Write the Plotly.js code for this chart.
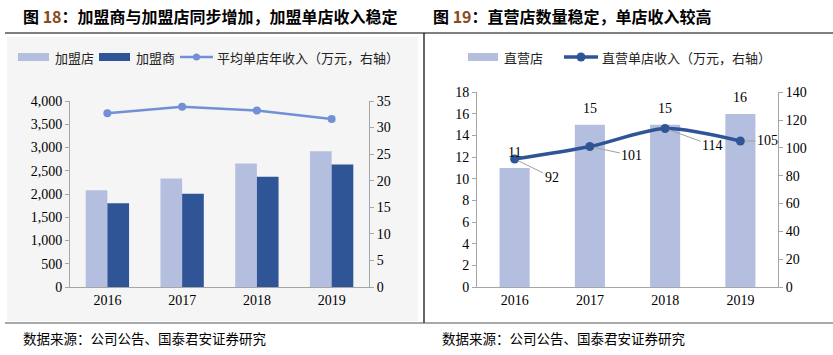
<!DOCTYPE html>
<html>
<head>
<meta charset="utf-8">
<script src="https://cdn.plot.ly/plotly-3.0.1.min.js"></script>
<style>
html,body{margin:0;padding:0;background:#fff;}
#chart{width:833px;height:355px;}
</style>
</head>
<body>
<div id="chart"></div>
<script>
// ---- data ----
const years = ['2016', '2017', '2018', '2019'];
const franchiseStores = [2080, 2335, 2655, 2920];      // 加盟店
const franchisees = [1800, 2005, 2370, 2635];          // 加盟商
const avgFranchiseRevenue = [32.7, 33.9, 33.2, 31.6];  // 平均单店年收入（万元）
const directStores = [11, 15, 15, 16];                 // 直营店
const directRevenue = [92, 101, 114, 105];             // 直营单店收入（万元）

const leftTitle = '图 <span style="color:#8a4a1c">18</span>：加盟商与加盟店同步增加，加盟单店收入稳定';
const rightTitle = '图 <span style="color:#8a4a1c">19</span>：直营店数量稳定，单店收入较高';
const sourceText = '数据来源：公司公告、国泰君安证券研究';

// ---- style ----
const W = 833, H = 355;
const px = v => v / W;
const py = v => 1 - v / H;
const LIGHT = '#b4bfdf';
const DARK = '#2f5597';
const MID = '#7190d6';
const AXIS = '#a6a6a6';
const SERIF = '"Liberation Serif", "Times New Roman", serif';
const CJK = '"Noto Sans CJK SC", sans-serif';
const labelOffsets = [[37, 18], [42, 9], [47, 17], [27, 0]];

const traces = [
  {type: 'bar', x: years, y: franchiseStores, name: '加盟店', xaxis: 'x', yaxis: 'y',
   marker: {color: LIGHT}},
  {type: 'bar', x: years, y: franchisees, name: '加盟商', xaxis: 'x', yaxis: 'y',
   marker: {color: DARK}},
  {type: 'scatter', mode: 'lines+markers', x: years, y: avgFranchiseRevenue,
   name: '平均单店年收入（万元，右轴）', xaxis: 'x', yaxis: 'y2',
   line: {color: MID, width: 2.5}, marker: {color: MID, size: 8}},
  {type: 'bar', x: years, y: directStores, name: '直营店', xaxis: 'x2', yaxis: 'y3',
   width: 0.4, marker: {color: LIGHT}},
  {type: 'scatter', mode: 'lines+markers', x: years, y: directRevenue,
   name: '直营单店收入（万元，右轴）', xaxis: 'x2', yaxis: 'y4',
   line: {color: DARK, width: 3.5, shape: 'spline', smoothing: 0.8}, marker: {color: DARK, size: 9}}
];

const tickFont = {family: SERIF, size: 14, color: '#000'};
const yAxisBase = {showline: true, linecolor: AXIS, linewidth: 1, ticks: 'outside', ticklen: 4,
  tickcolor: AXIS, showgrid: false, zeroline: false, tickfont: tickFont, fixedrange: true, autorange: false};
const xAxisBase = {showline: true, linecolor: AXIS, linewidth: 1, ticks: '', showgrid: false,
  zeroline: false, tickfont: tickFont, type: 'category', categoryorder: 'array', categoryarray: years,
  range: [-0.5, years.length - 0.5], autorange: false, fixedrange: true};

const annotations = [];
// titles
annotations.push({xref: 'paper', yref: 'paper', x: px(21), y: py(16), xanchor: 'left', yanchor: 'middle',
  text: leftTitle, showarrow: false, font: {family: CJK, size: 16, color: '#000', weight: 'bold'}});
annotations.push({xref: 'paper', yref: 'paper', x: px(431), y: py(16), xanchor: 'left', yanchor: 'middle',
  text: rightTitle, showarrow: false, font: {family: CJK, size: 16, color: '#000', weight: 'bold'}});
// sources
annotations.push({xref: 'paper', yref: 'paper', x: px(21), y: py(338), xanchor: 'left', yanchor: 'middle',
  text: sourceText, showarrow: false, font: {family: CJK, size: 13.5, color: '#000'}});
annotations.push({xref: 'paper', yref: 'paper', x: px(440), y: py(338), xanchor: 'left', yanchor: 'middle',
  text: sourceText, showarrow: false, font: {family: CJK, size: 13.5, color: '#000'}});
// legends (manual)
const legFont = {family: CJK, size: 13, color: '#222'};
const legY = 57;
function legText(x, t) {
  annotations.push({xref: 'paper', yref: 'paper', x: px(x), y: py(legY), xanchor: 'left', yanchor: 'middle',
    text: t, showarrow: false, font: legFont});
}
legText(53, traces[0].name);
legText(134, traces[1].name);
legText(215, traces[2].name);
legText(502, traces[3].name);
legText(600, traces[4].name);
// bar value labels (right panel)
directStores.forEach((v, i) => {
  annotations.push({xref: 'x2', yref: 'y3', x: i, y: v, yshift: 16, showarrow: false,
    text: String(v), font: tickFont});
});
// line value labels with leader lines
directRevenue.forEach((v, i) => {
  annotations.push({xref: 'x2', yref: 'y4', x: i, y: v, axref: 'pixel', ayref: 'pixel',
    ax: labelOffsets[i][0], ay: labelOffsets[i][1],
    showarrow: true, arrowhead: 0, arrowwidth: 1, arrowcolor: '#a0a0a0', standoff: 4,
    text: String(v), font: tickFont});
});

const shapes = [
  // left panel grey background
  {type: 'rect', xref: 'paper', yref: 'paper', x0: px(7), x1: px(418), y0: py(37), y1: py(321),
   fillcolor: '#f5f5f5', line: {width: 0}, layer: 'below'},
  // header line
  {type: 'line', xref: 'paper', yref: 'paper', x0: px(5), x1: px(833), y0: py(33), y1: py(33),
   line: {color: '#808080', width: 2}},
  // vertical separator
  {type: 'line', xref: 'paper', yref: 'paper', x0: px(424), x1: px(424), y0: py(33), y1: py(323),
   line: {color: '#000', width: 1.2}},
  // bottom line
  {type: 'line', xref: 'paper', yref: 'paper', x0: px(5), x1: px(833), y0: py(323), y1: py(323),
   line: {color: '#555', width: 1.2}},
  // legend swatches
  {type: 'rect', xref: 'paper', yref: 'paper', x0: px(18), x1: px(49), y0: py(legY - 4), y1: py(legY + 4),
   fillcolor: LIGHT, line: {width: 0}},
  {type: 'rect', xref: 'paper', yref: 'paper', x0: px(99), x1: px(130), y0: py(legY - 4), y1: py(legY + 4),
   fillcolor: DARK, line: {width: 0}},
  {type: 'line', xref: 'paper', yref: 'paper', x0: px(180), x1: px(213), y0: py(legY), y1: py(legY),
   line: {color: MID, width: 2.5}},
  {type: 'circle', xref: 'paper', yref: 'paper', x0: px(193), x1: px(200), y0: py(legY - 3.5), y1: py(legY + 3.5),
   fillcolor: MID, line: {color: MID, width: 0}},
  {type: 'rect', xref: 'paper', yref: 'paper', x0: px(468), x1: px(498), y0: py(legY - 4), y1: py(legY + 4),
   fillcolor: LIGHT, line: {width: 0}},
  {type: 'line', xref: 'paper', yref: 'paper', x0: px(564), x1: px(598), y0: py(legY), y1: py(legY),
   line: {color: DARK, width: 3.5}},
  {type: 'circle', xref: 'paper', yref: 'paper', x0: px(576.5), x1: px(585.5), y0: py(legY - 4.5), y1: py(legY + 4.5),
   fillcolor: DARK, line: {color: DARK, width: 0}}
];

const layout = {
  width: W, height: H,
  margin: {l: 0, r: 0, t: 0, b: 0, pad: 0},
  paper_bgcolor: '#fff', plot_bgcolor: '#fff',
  showlegend: false,
  barmode: 'group', bargap: 0.42, bargroupgap: 0,
  xaxis: Object.assign({}, xAxisBase, {domain: [px(70), px(369)], anchor: 'y'}),
  yaxis: Object.assign({}, yAxisBase, {domain: [py(287), py(101)], anchor: 'x', range: [0, 4000],
    dtick: 500, tickformat: ',d'}),
  yaxis2: Object.assign({}, yAxisBase, {overlaying: 'y', side: 'right', anchor: 'x', range: [0, 35], dtick: 5}),
  xaxis2: Object.assign({}, xAxisBase, {domain: [px(477), px(778)], anchor: 'y3'}),
  yaxis3: Object.assign({}, yAxisBase, {domain: [py(287), py(92.3)], anchor: 'x2', range: [0, 18], dtick: 2}),
  yaxis4: Object.assign({}, yAxisBase, {overlaying: 'y3', side: 'right', anchor: 'x2', range: [0, 140], dtick: 20}),
  shapes: shapes,
  annotations: annotations,
  hovermode: false
};

Plotly.newPlot('chart', traces, layout, {displayModeBar: false, staticPlot: true});
</script>
</body>
</html>
